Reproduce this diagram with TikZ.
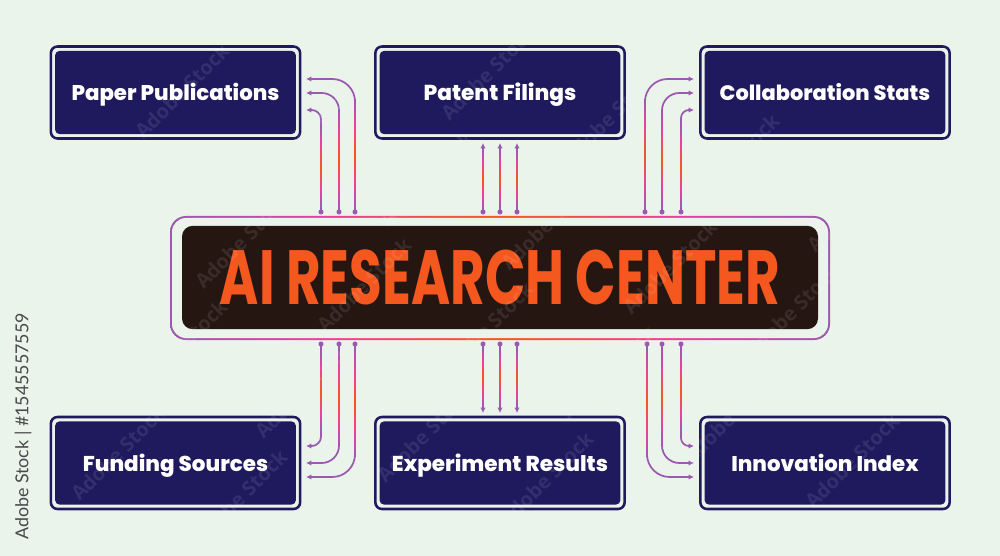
\documentclass[tikz,border=0pt]{standalone}
\usepackage{fontspec}
\usepackage{graphicx}
\setmainfont{Poppins}[BoldFont={Poppins ExtraBold}]
\newfontfamily\titlefont{Poppins}[UprightFont={Poppins Bold}]
\newfontfamily\sidefont{Lato}
\newfontfamily\markfont{Open Sans}
\usetikzlibrary{arrows.meta,calc}
\definecolor{bgc}{HTML}{EAF4EB}
\definecolor{navy}{HTML}{1F1A5E}
\definecolor{pu}{HTML}{9B59B0}
\definecolor{pk}{HTML}{F0409A}
\definecolor{ora}{HTML}{F4581F}
\definecolor{dark}{HTML}{261612}
\definecolor{sidec}{HTML}{484A4C}
\pgfdeclareverticalshading{wiregrad}{100bp}{color(0bp)=(pu);color(25bp)=(pu);color(37bp)=(pk);color(50bp)=(ora);color(63bp)=(pk);color(75bp)=(pu);color(100bp)=(pu)}
\pgfdeclarehorizontalshading{ringgrad}{100bp}{color(0bp)=(pu);color(25bp)=(pu);color(37bp)=(pk);color(50bp)=(ora);color(63bp)=(pk);color(75bp)=(pu);color(100bp)=(pu)}
\tikzset{
  x=0.75pt,y=-0.75pt,
  outerbox/.style={draw=navy,line width=1.9pt,fill=bgc,rounded corners=5pt,minimum width=187pt,minimum height=69pt,inner sep=0pt},
  innerbox/.style={fill=navy,rounded corners=3.5pt,minimum width=180.7pt,minimum height=62.5pt,inner sep=0pt,text=white,text height=14.5pt,text depth=1.8pt,font=\bfseries\fontsize{15}{18}\selectfont},
  wirebase/.style={draw=pu,line width=1.3pt,-{Latex[length=4pt,width=4pt]}},
  wm/.style={text=white,opacity=.09,rotate=45,font=\markfont\bfseries\fontsize{15}{18}\selectfont,inner sep=0pt},
}
% #1 start, #2 end, #3 corner radius, #4 and #5 span of the gradient stretch (y)
\newcommand{\wirebent}[5]{%
  \draw[wirebase,rounded corners=#3] (#1) |- (#2);
  \shade[shading=wiregrad] ($(#1|-0,#4)+(-0.65pt,0)$) rectangle ($(#1|-0,#5)+(0.65pt,0)$);
  \fill[pu] (#1) circle (1.9pt);
}
\newcommand{\wirestraight}[4]{%
  \draw[wirebase] (#1) -- (#2);
  \shade[shading=wiregrad] ($(#1|-0,#3)+(-0.65pt,0)$) rectangle ($(#1|-0,#4)+(0.65pt,0)$);
  \fill[pu] (#1) circle (1.9pt);
}
\begin{document}
\begin{tikzpicture}
\useasboundingbox (0,0) rectangle (1000,556);
\fill[bgc] (0,0) rectangle (1000,556);
% boxes
\foreach \n/\x/\y in {paper/175.5/92.5,patent/500/92.5,collab/825/92.5,funding/175.5/463,experiment/500/463,innovation/825/463}{
  \node[outerbox] (\n-o) at (\x,\y) {};
}
\node[innerbox] (paper) at (175.5,92.5) {\resizebox{156pt}{!}{Paper Publications}};
\node[innerbox] (patent) at (500,92.5) {\resizebox{114.5pt}{!}{Patent Filings}};
\node[innerbox] (collab) at (825,92.5) {\resizebox{158pt}{!}{Collaboration Stats}};
\node[innerbox] (funding) at (175.5,463) {\resizebox{139pt}{!}{Funding Sources}};
\node[innerbox] (experiment) at (500,463) {\resizebox{162pt}{!}{Experiment Results}};
\node[innerbox] (innovation) at (825,463) {\resizebox{140.5pt}{!}{Innovation Index}};
% centre ring with gradient stroke
\shade[shading=ringgrad,rounded corners=12pt] (170,216) rectangle (830,340);
\fill[bgc,rounded corners=10.5pt] (172,218) rectangle (828,338);
\node[fill=dark,rounded corners=8pt,minimum width=477pt,minimum height=77.5pt,inner sep=0pt] (center) at (500,277.5)
  {\resizebox{420pt}{41pt}{\textcolor{ora}{\titlefont AI RESEARCH CENTER}}};
% connector end points
\foreach \n/\x/\y in {
  a1/321/212,a2/339/212,a3/355/212,
  b1/483/212,b2/500/212,b3/517/212,
  c1/645/212,c2/662/212,c3/681/212,
  d1/321/344,d2/339/344,d3/355/344,
  e1/483/344,e2/500/344,e3/517/344,
  f1/647/344,f2/662/344,f3/681/344,
  A1/306/110,A2/306/93,A3/306/79,
  B1/483/143,B2/500/143,B3/517/143,
  C1/694/79,C2/694/93,C3/694/110,
  D1/306/446,D2/306/463,D3/306/477,
  E1/483/413,E2/500/413,E3/517/413,
  F1/694/477,F2/694/463,F3/694/446}{
  \coordinate (\n) at (\x,\y);
}
\wirebent{a1}{A1}{7pt}{124}{208}
\wirebent{a2}{A2}{13pt}{110}{208}
\wirebent{a3}{A3}{17pt}{100}{208}
\wirestraight{b1}{B1}{150}{208}
\wirestraight{b2}{B2}{150}{208}
\wirestraight{b3}{B3}{150}{208}
\wirebent{c1}{C1}{17pt}{100}{208}
\wirebent{c2}{C2}{13pt}{110}{208}
\wirebent{c3}{C3}{6pt}{124}{208}
\wirebent{d1}{D1}{7pt}{348}{432}
\wirebent{d2}{D2}{13pt}{348}{446}
\wirebent{d3}{D3}{17pt}{348}{456}
\wirestraight{e1}{E1}{348}{406}
\wirestraight{e2}{E2}{348}{406}
\wirestraight{e3}{E3}{348}{406}
\wirebent{f1}{F1}{17pt}{348}{456}
\wirebent{f2}{F2}{13pt}{348}{446}
\wirebent{f3}{F3}{6pt}{348}{432}
% side text
\node[rotate=90,text=sidec,inner sep=0pt,font=\sidefont\fontsize{15}{17}\selectfont] (side) at (23,426.5) {\resizebox{170pt}{!}{Adobe Stock | \#1545557559}};
% tiled marks
\foreach \i in {-6,...,8}{
  \foreach \j in {-4,...,2}{
    \pgfmathsetmacro{\wx}{118+\i*122+\j*60}
    \pgfmathsetmacro{\wy}{453+\i*44+\j*150}
    \pgfmathparse{(\wx>60 && \wx<940 && \wy>55 && \wy<500) ? 1 : 0}
    \ifnum\pgfmathresult=1
      \node[wm] at (\wx,\wy) {Adobe Stock};
    \fi
  }
}
\end{tikzpicture}
\end{document}
